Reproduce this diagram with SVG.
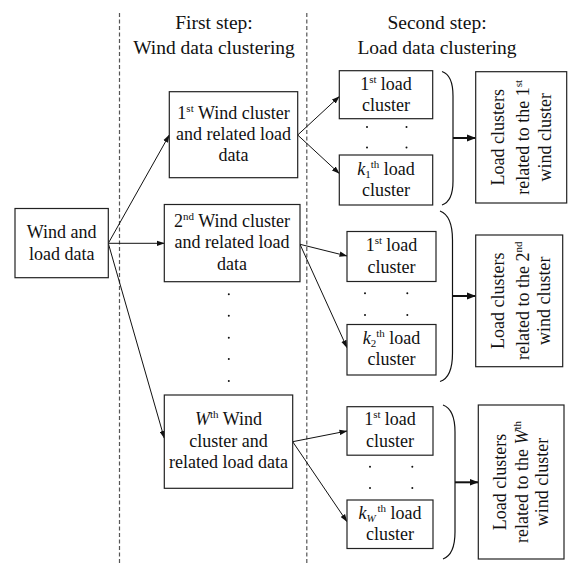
<svg xmlns="http://www.w3.org/2000/svg" width="569" height="565" viewBox="0 0 569 565" font-family="'Liberation Serif', 'Times New Roman', 'DejaVu Serif', serif">
<style>
text{font-family:'Liberation Serif','Times New Roman','DejaVu Serif',serif;font-size:18px;fill:#111;text-anchor:middle}
.h{font-size:19.5px}
.sup{font-size:11px}
.box{fill:#fff;stroke:#222;stroke-width:1.2}
.ln{fill:none;stroke:#111;stroke-width:1}
.thick{fill:none;stroke:#111;stroke-width:2}
.brace{fill:none;stroke:#111;stroke-width:1.2}
.dash{fill:none;stroke:#555;stroke-width:1.2;stroke-dasharray:4,2.5}
.dot{fill:#111}
</style>
<defs>
<marker id="ah" markerUnits="userSpaceOnUse" markerWidth="8" markerHeight="6" refX="7.5" refY="3" orient="auto"><path d="M0,0.3 L8,3 L0,5.7 z" fill="#111"/></marker>
<marker id="ahb" markerUnits="userSpaceOnUse" markerWidth="9" markerHeight="8" refX="8.5" refY="4" orient="auto"><path d="M0,0.5 L9,4 L0,7.5 z" fill="#111"/></marker>
</defs>

<g id="dividers">
<line class="dash" x1="119.5" y1="13" x2="119.5" y2="565"/>
<line class="dash" x1="306.8" y1="13" x2="306.8" y2="565"/>
</g>

<g id="headers">
<text class="h" x="214" y="28.5">First step:</text>
<text class="h" x="214" y="53.5">Wind data clustering</text>
<text class="h" x="437" y="28.5">Second step:</text>
<text class="h" x="437" y="53.5">Load data clustering</text>
</g>

<g id="connectors">
<line class="ln" x1="108.3" y1="243.3" x2="169.3" y2="135" marker-end="url(#ah)"/>
<line class="ln" x1="108.3" y1="243.3" x2="164.3" y2="243.3" marker-end="url(#ah)"/>
<line class="ln" x1="108.3" y1="243.3" x2="164.3" y2="438.3" marker-end="url(#ah)"/>
<line class="ln" x1="297.7" y1="135" x2="339.3" y2="96.5" marker-end="url(#ah)"/>
<line class="ln" x1="297.7" y1="135" x2="339.3" y2="173.5" marker-end="url(#ah)"/>
<line class="ln" x1="300" y1="244.3" x2="347" y2="256" marker-end="url(#ah)"/>
<line class="ln" x1="300" y1="244.3" x2="347" y2="347.7" marker-end="url(#ah)"/>
<line class="ln" x1="292.7" y1="441.7" x2="347" y2="431" marker-end="url(#ah)"/>
<line class="ln" x1="292.7" y1="441.7" x2="347" y2="521.7" marker-end="url(#ah)"/>
<path class="brace" d="M442,71.5 C449.5,74 453,82 453,96 L453,181 C453,195 449.5,202.5 442,205"/>
<path class="brace" d="M440,211 C448,214 452.5,224 452.5,240 L452.5,353 C452.5,369 448,379 440,381.5"/>
<path class="brace" d="M443,405 C451,408 455,417 455,432 L455,532 C455,547 451,556 443,559"/>
<line class="thick" x1="453" y1="138" x2="475.5" y2="138" marker-end="url(#ahb)"/>
<line class="thick" x1="452.5" y1="296" x2="475.5" y2="296" marker-end="url(#ahb)"/>
<line class="thick" x1="455" y1="482.3" x2="478" y2="482.3" marker-end="url(#ahb)"/>
</g>

<g id="wind-load-data">
<rect class="box" x="15" y="208.5" width="93.3" height="69.2"/>
<text x="61.7" y="238.3">Wind and</text>
<text x="61.7" y="260">load data</text>
</g>

<g id="wind-cluster-1">
<rect class="box" x="169.3" y="91.7" width="128.4" height="86"/>
<text x="233.5" y="118.5">1<tspan class="sup" dy="-7">st</tspan><tspan dy="7"> Wind cluster</tspan></text>
<text x="233.5" y="139.5">and related load</text>
<text x="233.5" y="160.7">data</text>
</g>

<g id="wind-cluster-2">
<rect class="box" x="164.3" y="204.5" width="135.7" height="77.2"/>
<text x="232" y="226.7">2<tspan class="sup" dy="-7">nd</tspan><tspan dy="7"> Wind cluster</tspan></text>
<text x="232" y="248.3">and related load</text>
<text x="232" y="270">data</text>
</g>

<g id="wind-dots">
<circle class="dot" cx="228.8" cy="294.3" r="1"/>
<circle class="dot" cx="228.8" cy="315.8" r="1"/>
<circle class="dot" cx="228.8" cy="337.7" r="1"/>
<circle class="dot" cx="228.8" cy="359" r="1"/>
<circle class="dot" cx="228.8" cy="381" r="1"/>
</g>

<g id="wind-cluster-W">
<rect class="box" x="164.3" y="395" width="128.4" height="93.3"/>
<text x="228.5" y="425"><tspan font-style="italic">W</tspan><tspan class="sup" dy="-7">th</tspan><tspan dy="7"> Wind</tspan></text>
<text x="228.5" y="446.7">cluster and</text>
<text x="228.5" y="468.3">related load data</text>
</g>

<g id="load-1-1">
<rect class="box" x="339.3" y="70.7" width="93.4" height="48"/>
<text x="386" y="89.5">1<tspan class="sup" dy="-7">st</tspan><tspan dy="7" dx="4">load</tspan></text>
<text x="386" y="110.5">cluster</text>
</g>
<g id="load-1-dots">
<circle class="dot" cx="367" cy="127" r="1"/>
<circle class="dot" cx="406.5" cy="127" r="1"/>
<circle class="dot" cx="367" cy="147.5" r="1"/>
<circle class="dot" cx="406.5" cy="147.5" r="1"/>
</g>
<g id="load-1-k">
<rect class="box" x="339.3" y="155" width="93.4" height="50"/>
<text x="386" y="175"><tspan font-style="italic">k</tspan><tspan class="sup" dy="3">1</tspan><tspan class="sup" dy="-10">th</tspan><tspan dy="7"> load</tspan></text>
<text x="386" y="195.5">cluster</text>
</g>
<g id="result-1">
<rect class="box" x="475.7" y="71.7" width="91" height="131.3"/>
<g transform="translate(521 137.3) rotate(-90)">
<text x="0" y="-17">Load clusters</text>
<text x="0" y="7.5">related to the 1<tspan class="sup" dy="-7">st</tspan></text>
<text x="0" y="30">wind cluster</text>
</g>
</g>

<g id="load-2-1">
<rect class="box" x="347" y="231.5" width="89" height="50"/>
<text x="391.5" y="251">1<tspan class="sup" dy="-7">st</tspan><tspan dy="7" dx="4">load</tspan></text>
<text x="391.5" y="273">cluster</text>
</g>
<g id="load-2-dots">
<circle class="dot" cx="365" cy="293.3" r="1"/>
<circle class="dot" cx="407.3" cy="293.3" r="1"/>
<circle class="dot" cx="365" cy="315" r="1"/>
<circle class="dot" cx="407.3" cy="315" r="1"/>
</g>
<g id="load-2-k">
<rect class="box" x="347" y="324.5" width="89" height="50.5"/>
<text x="391.5" y="343.5"><tspan font-style="italic">k</tspan><tspan class="sup" dy="3">2</tspan><tspan class="sup" dy="-10">th</tspan><tspan dy="7"> load</tspan></text>
<text x="391.5" y="365">cluster</text>
</g>
<g id="result-2">
<rect class="box" x="475.7" y="235" width="87" height="131.7"/>
<g transform="translate(519 300.8) rotate(-90)">
<text x="0" y="-15">Load clusters</text>
<text x="0" y="9.7">related to the 2<tspan class="sup" dy="-7">nd</tspan></text>
<text x="0" y="31">wind cluster</text>
</g>
</g>

<g id="load-W-1">
<rect class="box" x="347" y="406.7" width="86" height="48.5"/>
<text x="390" y="425">1<tspan class="sup" dy="-7">st</tspan><tspan dy="7" dx="4">load</tspan></text>
<text x="390" y="446.7">cluster</text>
</g>
<g id="load-W-dots">
<circle class="dot" cx="370" cy="466.7" r="1"/>
<circle class="dot" cx="412.3" cy="466.7" r="1"/>
<circle class="dot" cx="370" cy="488" r="1"/>
<circle class="dot" cx="412.3" cy="488" r="1"/>
</g>
<g id="load-W-k">
<rect class="box" x="347" y="500" width="86" height="48.5"/>
<text x="390" y="518.5"><tspan font-style="italic">k</tspan><tspan class="sup" font-style="italic" dy="3">W</tspan><tspan class="sup" dx="2" dy="-10">th</tspan><tspan dy="7"> load</tspan></text>
<text x="390" y="540">cluster</text>
</g>
<g id="result-W">
<rect class="box" x="478.3" y="405" width="85.7" height="154"/>
<g transform="translate(521 482) rotate(-90)">
<text x="0" y="-15">Load clusters</text>
<text x="0" y="7.3">related to the <tspan font-style="italic">W</tspan><tspan class="sup" dy="-7">th</tspan></text>
<text x="0" y="27.3">wind cluster</text>
</g>
</g>
</svg>
